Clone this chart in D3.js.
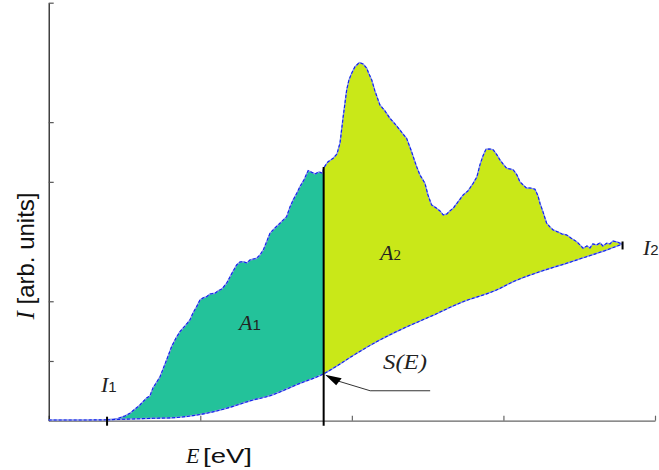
<!DOCTYPE html>
<html>
<head>
<meta charset="utf-8">
<script src="https://cdn.jsdelivr.net/npm/d3@7"></script>
<style>
  html, body { margin: 0; padding: 0; background: #fff; }
  svg { display: block; }
</style>
</head>
<body>
<svg id="chart" width="659" height="470"></svg>
<script>
// Measured spectrum I(E): energy values and intensities (arbitrary units)
const spectrumE = [0, 2.06, 3.85, 4.49, 5.03, 5.36, 6.02, 6.46, 6.68, 6.88, 7.34, 7.78, 8.11, 8.40, 8.66, 8.99,
  9.32, 9.52, 9.76, 9.98, 10.18, 10.42, 10.64, 10.97, 11.17, 11.43, 11.74, 12.03, 12.40, 12.62, 12.84, 13.08,
  13.28, 13.72, 13.94, 14.16, 14.40, 14.60, 14.93, 15.26, 15.70, 15.92, 16.13, 16.38, 16.58, 16.84, 17.12,
  17.30, 17.57, 17.83, 18.07, 18.14, 18.42, 18.77, 19.02, 19.22, 19.43, 19.66, 19.81, 19.99, 20.20, 20.49,
  20.73, 20.98, 21.13, 21.31, 21.52, 21.85, 22.18, 22.51, 22.84, 23.17, 23.37, 23.61, 23.90, 24.27, 24.49,
  24.82, 25.02, 25.26, 25.59, 25.81, 26.03, 26.27, 26.47, 26.69, 27.00, 27.35, 27.66, 28.01, 28.25, 28.45,
  28.65, 28.85, 29.11, 29.33, 29.57, 29.77, 29.97, 30.21, 30.43, 30.65, 30.89, 31.09, 31.53, 31.75, 32.08,
  32.28, 32.41, 32.61, 32.85, 33.07, 33.28, 33.59, 33.86, 34.17, 34.45, 34.83, 35.05, 35.26, 35.51, 35.71,
  35.90, 36.15, 36.37, 36.56, 36.81, 37.03, 37.22, 37.49, 37.69, 37.86];
const spectrumI = [0.12, 0.12, 0.15, 0.28, 0.79, 1.24, 2.63, 3.80, 4.14, 5.48, 7.32, 10.17, 12.40, 13.85, 14.91, 15.86,
  16.87, 18.04, 19.10, 20.22, 20.55, 20.77, 21.22, 21.34, 21.73, 22.06, 23.02, 24.41, 26.08, 26.58, 26.63, 26.42,
  26.92, 27.20, 27.76, 28.59, 30.10, 31.39, 32.28, 33.07, 34.17, 35.80, 36.97, 38.14, 39.20, 40.32, 41.88,
  41.66, 41.32, 41.66, 41.44, 42.33, 43.33, 43.95, 44.67, 46.52, 50.92, 55.39, 57.07, 58.19, 59.25, 59.97,
  59.75, 59.03, 58.07, 57.07, 55.23, 52.88, 51.88, 50.65, 49.70, 48.69, 48.02, 47.30, 45.34, 42.55, 41.16,
  39.77, 37.81, 36.13, 35.58, 35.13, 34.46, 34.62, 35.13, 35.58, 36.63, 37.81, 38.48, 39.77, 40.82, 42.83,
  44.34, 45.46, 45.51, 45.34, 44.51, 43.67, 43.00, 42.28, 42.16, 41.99, 41.16, 39.98, 38.93, 38.98, 38.76,
  37.64, 36.42, 34.96, 33.07, 32.45, 31.94, 31.61, 31.27, 31.11, 30.60, 29.98, 29.43, 28.88, 29.26, 28.93,
  29.60, 29.43, 29.77, 29.26, 29.72, 29.60, 30.10, 29.93, 29.72, 29.68];

// Background curve S(E)
const backgroundE = [0, 3.85, 5.36, 6.90, 8.20, 9.98, 11.74, 13.48, 14.38, 16.58, 18.14, 19.22, 20.09, 21.85,
  23.17, 25.15, 27.35, 29.55, 30.65, 32.41, 34.17, 35.49, 36.81, 37.86];
const backgroundI = [0.07, 0.15, 0.28, 0.40, 0.50, 1.04, 2.08, 3.47, 4.02, 6.26, 7.86, 9.50, 10.92, 13.52,
  15.19, 17.42, 19.93, 21.89, 23.28, 24.96, 26.37, 27.47, 28.59, 29.60];

// Integration limits and the split energy between A1 and A2
const limitI1 = 3.85;
const limitSplit = 18.14;
const limitI2 = 37.86;

// Axis ticks (no numeric labels are drawn)
const xTicks = [0, 10, 20, 30, 40];
const yTicks = [10, 20, 40, 50, 70];

const svg = d3.select("#chart");
const x = d3.scaleLinear().domain([0, 40]).range([48.7, 655]);
const y = d3.scaleLinear().domain([0, 70]).range([420.7, 2.7]);

const upper = spectrumE.map((e, i) => ({ e, v: spectrumI[i] }));
const lower = backgroundE.map((e, i) => ({ e, v: backgroundI[i] }));

const lineLinear = d3.line().x(d => x(d.e)).y(d => y(d.v));
const lineSmooth = d3.line().x(d => x(d.e)).y(d => y(d.v)).curve(d3.curveMonotoneX);

// Region between the spectrum and the background for a given energy window
function regionPath(e0, e1) {
  const top = upper.filter(d => d.e >= e0 - 1e-9 && d.e <= e1 + 1e-9);
  const bot = lower.filter(d => d.e >= e0 - 1e-9 && d.e <= e1 + 1e-9).reverse();
  return lineLinear(top.concat(bot)) + "Z";
}

svg.append("path").attr("d", regionPath(limitI1, limitSplit))
  .attr("fill", "#23C29A").attr("stroke", "none");
svg.append("path").attr("d", regionPath(limitSplit, limitI2))
  .attr("fill", "#C9E818").attr("stroke", "none");

// Axes
const xAxis = d3.axisBottom(x).tickValues(xTicks).tickSize(-5).tickFormat("").tickSizeOuter(0);
const gx = svg.append("g").attr("transform", `translate(0,${y(0)})`).call(xAxis);
gx.select(".domain").attr("stroke", "#666").attr("stroke-width", 1.2);
gx.selectAll(".tick line").attr("stroke", "#666").attr("stroke-width", 1.2);

const yAxis = d3.axisLeft(y).tickValues(yTicks).tickSize(-5).tickFormat("").tickSizeOuter(0);
const gy = svg.append("g").attr("transform", `translate(${x(0)},0)`).call(yAxis);
gy.select(".domain").attr("stroke", "#111").attr("stroke-width", 1.2);
gy.selectAll(".tick line").attr("stroke", "#555").attr("stroke-width", 1.2);

// Curve outlines: light underlay with a dashed blue line on top
function outline(path) {
  svg.append("path").attr("d", path).attr("fill", "none")
    .attr("stroke", "#8a98e6").attr("stroke-width", 1.4);
  svg.append("path").attr("d", path).attr("fill", "none")
    .attr("stroke", "#1020f0").attr("stroke-width", 1.1).attr("stroke-dasharray", "3,2");
}
outline(lineLinear(upper));
outline(lineSmooth(lower.filter(d => d.e >= limitI1)));

// Split line between A1 and A2
const splitTop = upper.find(d => Math.abs(d.e - limitSplit) < 1e-9).v;
svg.append("line")
  .attr("x1", x(limitSplit)).attr("x2", x(limitSplit))
  .attr("y1", y(splitTop) - 1).attr("y2", y(0) + 5)
  .attr("stroke", "#000").attr("stroke-width", 2);

// Limit markers I1 and I2
svg.append("line")
  .attr("x1", x(limitI1)).attr("x2", x(limitI1))
  .attr("y1", y(0) - 4).attr("y2", y(0) + 5)
  .attr("stroke", "#000").attr("stroke-width", 2);
const endV = upper[upper.length - 1].v;
svg.append("line")
  .attr("x1", x(limitI2)).attr("x2", x(limitI2))
  .attr("y1", y(endV) - 2).attr("y2", y(endV) + 6)
  .attr("stroke", "#000").attr("stroke-width", 2);

// Pointer to S(E)
const bgSplit = lower.find(d => Math.abs(d.e - limitSplit) < 1e-9).v;
const tipX = x(limitSplit) + 1.5, tipY = y(bgSplit) + 1;
svg.append("polyline")
  .attr("points", `${tipX + 12},${tipY + 6} ${tipX + 45},${tipY + 16} ${tipX + 105},${tipY + 16}`)
  .attr("fill", "none").attr("stroke", "#333").attr("stroke-width", 1);
svg.append("polygon")
  .attr("points", `${tipX},${tipY} ${tipX + 16.5},${tipY + 3.5} ${tipX + 11},${tipY + 10.5}`)
  .attr("fill", "#000");

// Labels
const serif = "'Liberation Serif', 'Times New Roman', serif";
const sans = "'Liberation Sans', Arial, sans-serif";

function subLabel(px, py, main, sub, subFont) {
  const t = svg.append("text").attr("x", px).attr("y", py).attr("fill", "#222");
  t.append("tspan").text(main).attr("font-family", serif).attr("font-style", "italic").attr("font-size", 22);
  t.append("tspan").text(sub).attr("font-family", subFont).attr("font-size", 15);
  return t;
}
subLabel(101, 392, "I", "1", sans);
subLabel(239, 330, "A", "1", sans);
subLabel(380, 260, "A", "2", serif);
subLabel(643, 255, "I", "2", sans);

svg.append("text").attr("x", 383).attr("y", 369)
  .attr("font-family", serif).attr("font-style", "italic").attr("font-size", 21)
  .attr("textLength", 44).attr("lengthAdjust", "spacingAndGlyphs")
  .attr("fill", "#222").text("S(E)");

const xl = svg.append("text").attr("x", 186).attr("y", 463).attr("fill", "#111");
xl.append("tspan").text("E").attr("font-family", serif).attr("font-style", "italic").attr("font-size", 22);
svg.append("text").attr("x", 203).attr("y", 463).attr("fill", "#111")
  .attr("font-family", sans).attr("font-size", 21)
  .attr("textLength", 49).attr("lengthAdjust", "spacingAndGlyphs")
  .text("[eV]");

const yl = svg.append("text")
  .attr("transform", "translate(34,256) rotate(-90)")
  .attr("text-anchor", "middle").attr("fill", "#111");
yl.append("tspan").text("I").attr("font-family", serif).attr("font-style", "italic").attr("font-size", 25);
yl.append("tspan").text(" [arb. units]").attr("font-family", sans).attr("font-size", 24);
</script>
</body>
</html>
